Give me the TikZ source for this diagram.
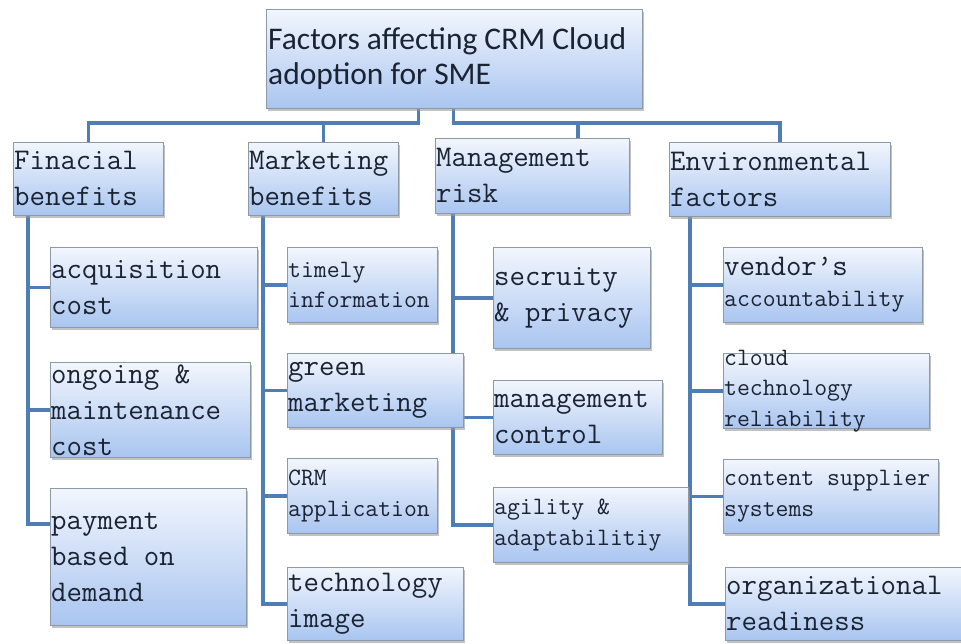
\documentclass[tikz,border=0pt]{standalone}
\usepackage{fontspec}
\setsansfont{Carlito}
\setmonofont{Latin Modern Mono}
\usepackage{tikz}
\usetikzlibrary{positioning,backgrounds,shadows}
\usepackage{xcolor}

\definecolor{boxtop}{HTML}{F2F6FD}
\definecolor{boxbot}{HTML}{A9C5F0}
\definecolor{boxline}{HTML}{8E99A8}
\definecolor{linkblue}{HTML}{4F7DB6}
\definecolor{ink}{HTML}{1B2333}

\tikzset{
  box/.style={draw=boxline, line width=0.8pt, top color=boxtop, bottom color=boxbot,
    anchor=north west, inner sep=0pt,
    drop shadow={shadow xshift=2pt, shadow yshift=-2.5pt, fill=black!40, opacity=0.6}},
  big/.style={anchor=west, align=left, inner sep=1pt, text=ink,
    font=\ttfamily\fontsize{30}{36}\selectfont},
  small/.style={anchor=west, align=left, inner sep=1pt, text=ink,
    font=\ttfamily\fontsize{25}{30.5}\selectfont},
  link/.style={draw=linkblue, line width=3.5pt}
}

\begin{document}
\begin{tikzpicture}[x=1pt, y=-1pt]
\useasboundingbox (0,0) rectangle (961,643);

% top box
\node[box, minimum width=376, minimum height=99] (root) at (266,9) {};
\node[anchor=west, align=left, inner sep=2pt, text=ink,
  font=\sffamily\fontsize{31.5}{35}\selectfont] (root-t) at (root.west)
  {Factors affecting CRM Cloud\\adoption for SME};

% factor groups
\node[box, minimum width=150, minimum height=73] (fin) at (13,142) {};
\node[big] (fin-t) at (fin.west) {Finacial\\benefits};
\node[box, minimum width=150, minimum height=73] (mkt) at (248,142) {};
\node[big] (mkt-t) at (mkt.west) {Marketing\\benefits};
\node[box, minimum width=194, minimum height=75] (mgt) at (435,138) {};
\node[big] (mgt-t) at (mgt.west) {Management\\risk};
\node[box, minimum width=221, minimum height=74] (env) at (669,142) {};
\node[big] (env-t) at (env.west) {Environmental\\factors};

% financial
\node[box, minimum width=207, minimum height=80] (acq) at (50,247) {};
\node[big] (acq-t) at (acq.west) {acquisition\\cost};
\node[box, minimum width=200, minimum height=95] (ong) at (50,362) {};
\node[big] (ong-t) at (ong.west) {ongoing \&\\maintenance\\cost};
\node[box, minimum width=196, minimum height=137] (pay) at (50,488) {};
\node[big] (pay-t) at (pay.west) {payment\\based on\\demand};

% marketing
\node[box, minimum width=150, minimum height=75] (tim) at (287,247) {};
\node[small] (tim-t) at (tim.west) {timely\\information};
\node[box, minimum width=176, minimum height=74] (grn) at (287,353) {};
\node[big] (grn-t) at (grn.west) {green\\marketing};
\node[box, minimum width=150, minimum height=75] (crm) at (287,458) {};
\node[small] (crm-t) at (crm.west) {CRM\\application};
\node[box, minimum width=176, minimum height=73] (tec) at (287,567) {};
\node[big] (tec-t) at (tec.west) {technology\\image};

% management
\node[box, minimum width=157, minimum height=101] (sec) at (493,247) {};
\node[big] (sec-t) at (sec.west) {secruity\\\& privacy};
\node[box, minimum width=169, minimum height=74] (mct) at (493,380) {};
\node[big] (mct-t) at (mct.west) {management\\control};
\node[box, minimum width=195, minimum height=75] (agi) at (493,487) {};
\node[small] (agi-t) at (agi.west) {agility \&\\adaptabilitiy};

% environmental
\node[box, minimum width=199, minimum height=75] (ven) at (723,247) {};
\node[small] (ven-t) at (ven.west) {{\fontsize{30}{30.5}\selectfont vendor’s}\\accountability};
\node[box, minimum width=206, minimum height=75] (clo) at (723,353) {};
\node[small] (clo-t) at (clo.west) {cloud\\technology\\reliability};
\node[box, minimum width=215, minimum height=74] (con) at (723,459) {};
\node[small] (con-t) at (con.west) {content supplier\\systems};
\node[box, minimum width=240, minimum height=73] (org) at (725,567) {};
\node[big] (org-t) at (org.west) {organizational\\readiness};

\begin{scope}[on background layer]
% root to groups
\draw[link] ([xshift=-36pt]root.south) -- ++(0,14) -| (fin.north);
\draw[link] ([xshift=-36pt]root.south) -- ++(0,14) -| (mkt.north);
\draw[link] ([xshift=-1pt]root.south) -- ++(0,14) -| ([xshift=143pt]mgt.north west);
\draw[link] ([xshift=-1pt]root.south) -- ++(0,14) -| (env.north);
% groups to items
\foreach \c in {acq,ong}
  \draw[link] ([xshift=15pt]fin.south west) |- (\c.west);
\draw[link] ([xshift=15pt]fin.south west) |- ([yshift=-36pt]pay.north west);
\foreach \c in {tim,grn,crm,tec}
  \draw[link] ([xshift=15pt]mkt.south west) |- (\c.west);
\foreach \c in {sec,mct,agi}
  \draw[link] ([xshift=18pt]mgt.south west) |- (\c.west);
\foreach \c in {ven,clo,con,org}
  \draw[link] ([xshift=21pt]env.south west) |- (\c.west);
\end{scope}
\end{tikzpicture}
\end{document}
